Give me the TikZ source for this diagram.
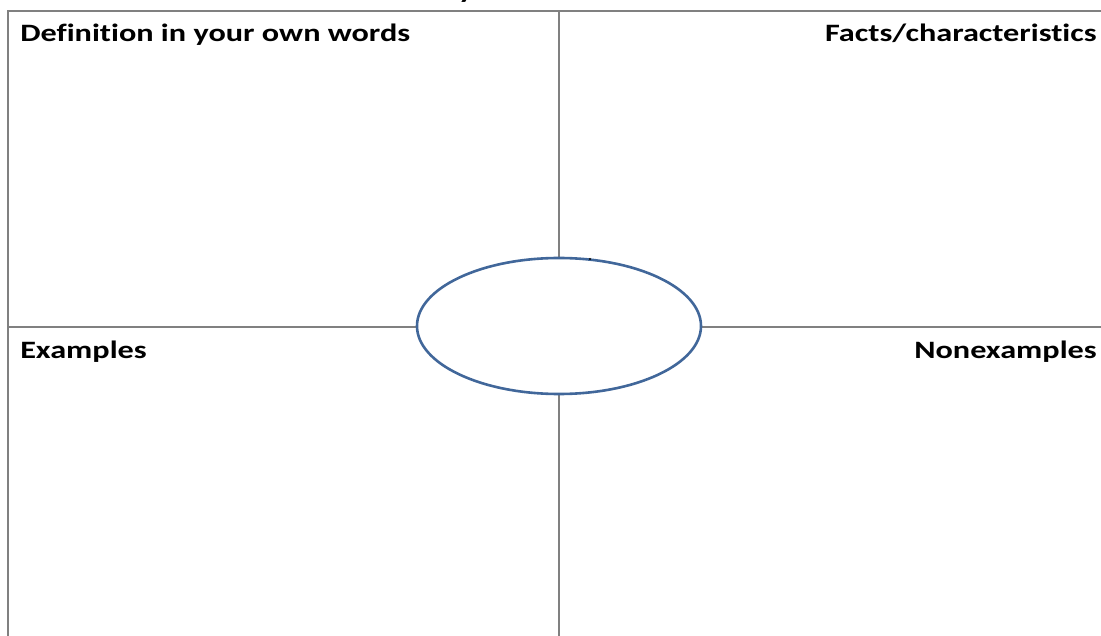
\documentclass[tikz,border=0pt]{standalone}
\usepackage{fontspec}
\setmainfont[Ligatures={NoCommon}]{Carlito}
\usetikzlibrary{shapes.geometric}
\definecolor{gridgray}{HTML}{808080}
\definecolor{ovalblue}{HTML}{41679A}
\tikzset{
  gridline/.style={draw=gridgray, line width=1.6pt},
  label/.style={font=\bfseries\fontsize{25}{28}\selectfont, inner sep=0pt, xscale=1.29},
  oval/.style={ellipse, draw=ovalblue, line width=2.6pt, fill=white, minimum width=284pt, minimum height=136pt, inner sep=0pt}
}
\begin{document}
\begin{tikzpicture}[x=1pt,y=-1pt]
\useasboundingbox (0,0) rectangle (1101,636);
\begin{scope}
\clip (0,0) rectangle (1101,636);
\node[label, anchor=base] (title) at (466,-1) {y};
\end{scope}
\coordinate (tl) at (8,11);
\coordinate (tr) at (1101,11);
\coordinate (bl) at (8,636);
\coordinate (tm) at (559,11);
\coordinate (bm) at (559,636);
\coordinate (ml) at (8,327);
\coordinate (mr) at (1101,327);
\draw[gridline] (tr) -- (tl) -- (bl);
\draw[gridline] (tm) -- (bm);
\draw[gridline] (ml) -- (mr);
\node[oval] (center) at (559,326) {};
\fill (590,259) circle (1.2pt);
\node[label, anchor=base west] (def) at (20,42) {Definition in your own words};
\node[label, anchor=base east] (facts) at (1097,42) {Facts/characteristics};
\node[label, anchor=base west] (ex) at (20,359) {Examples};
\node[label, anchor=base east] (nonex) at (1097,359) {Nonexamples};
\end{tikzpicture}
\end{document}
